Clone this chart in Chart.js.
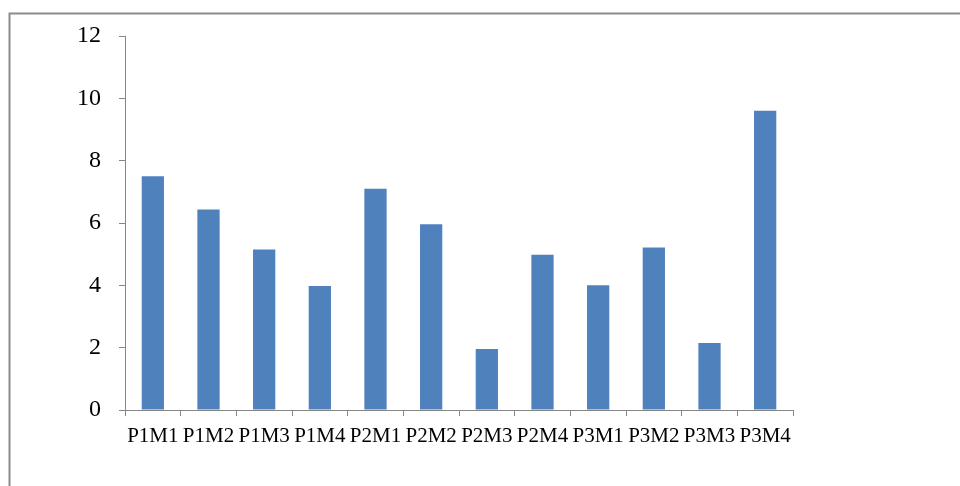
<!DOCTYPE html>
<html>
<head>
<meta charset="utf-8">
<script src="https://cdn.jsdelivr.net/npm/chart.js@4/dist/chart.umd.min.js"></script>
<style>
  html, body { margin: 0; padding: 0; background: #ffffff; }
  #wrap { width: 960px; height: 486px; position: relative; }
</style>
</head>
<body>
<div id="wrap"><canvas id="chart" width="960" height="486"></canvas></div>
<script>
// Sample labels and measured values
const categories = ['P1M1', 'P1M2', 'P1M3', 'P1M4', 'P2M1', 'P2M2', 'P2M3', 'P2M4', 'P3M1', 'P3M2', 'P3M3', 'P3M4'];
const values = [7.5, 6.43, 5.15, 3.98, 7.1, 5.96, 1.96, 4.98, 4.0, 5.21, 2.15, 9.6];
const yTicks = [0, 2, 4, 6, 8, 10, 12];

const axisGray = '#868686';

// Outer frame: top and left edges only
const framePlugin = {
  id: 'frame',
  beforeDraw(chart) {
    const ctx = chart.ctx;
    ctx.save();
    ctx.strokeStyle = '#8c8c8c';
    ctx.lineWidth = 2;
    ctx.beginPath();
    ctx.moveTo(9.5, 486);
    ctx.lineTo(9.5, 13.5);
    ctx.lineTo(960, 13.5);
    ctx.stroke();
    ctx.restore();
  }
};

new Chart(document.getElementById('chart'), {
  type: 'bar',
  data: {
    labels: categories,
    datasets: [{
      data: values,
      backgroundColor: '#4F81BD',
      borderWidth: 0,
      barPercentage: 0.4,
      categoryPercentage: 1.0
    }]
  },
  options: {
    responsive: false,
    animation: false,
    devicePixelRatio: 1,
    layout: { padding: { top: 36, right: 167, left: 0, bottom: 0 } },
    plugins: {
      legend: { display: false },
      tooltip: { enabled: false }
    },
    scales: {
      x: {
        grid: {
          offset: true,
          drawOnChartArea: false,
          drawTicks: true,
          tickLength: 6,
          color: axisGray,
          lineWidth: 1
        },
        border: { display: true, color: axisGray, width: 1 },
        ticks: {
          autoSkip: false,
          maxRotation: 0,
          minRotation: 0,
          padding: 8,
          color: '#000000',
          font: { family: '"Liberation Serif", "Times New Roman", serif', size: 21 }
        },
        afterFit(scale) { scale.height = 76; }
      },
      y: {
        min: 0,
        max: 12,
        afterBuildTicks(scale) { scale.ticks = yTicks.map(v => ({ value: v })); },
        grid: {
          drawOnChartArea: false,
          drawTicks: true,
          tickLength: 6,
          color: axisGray,
          lineWidth: 1
        },
        border: { display: true, color: axisGray, width: 1 },
        ticks: {
          padding: 18,
          color: '#000000',
          font: { family: '"Liberation Serif", "Times New Roman", serif', size: 24 }
        },
        afterFit(scale) { scale.width = 125; }
      }
    }
  },
  plugins: [framePlugin]
});
</script>
</body>
</html>
